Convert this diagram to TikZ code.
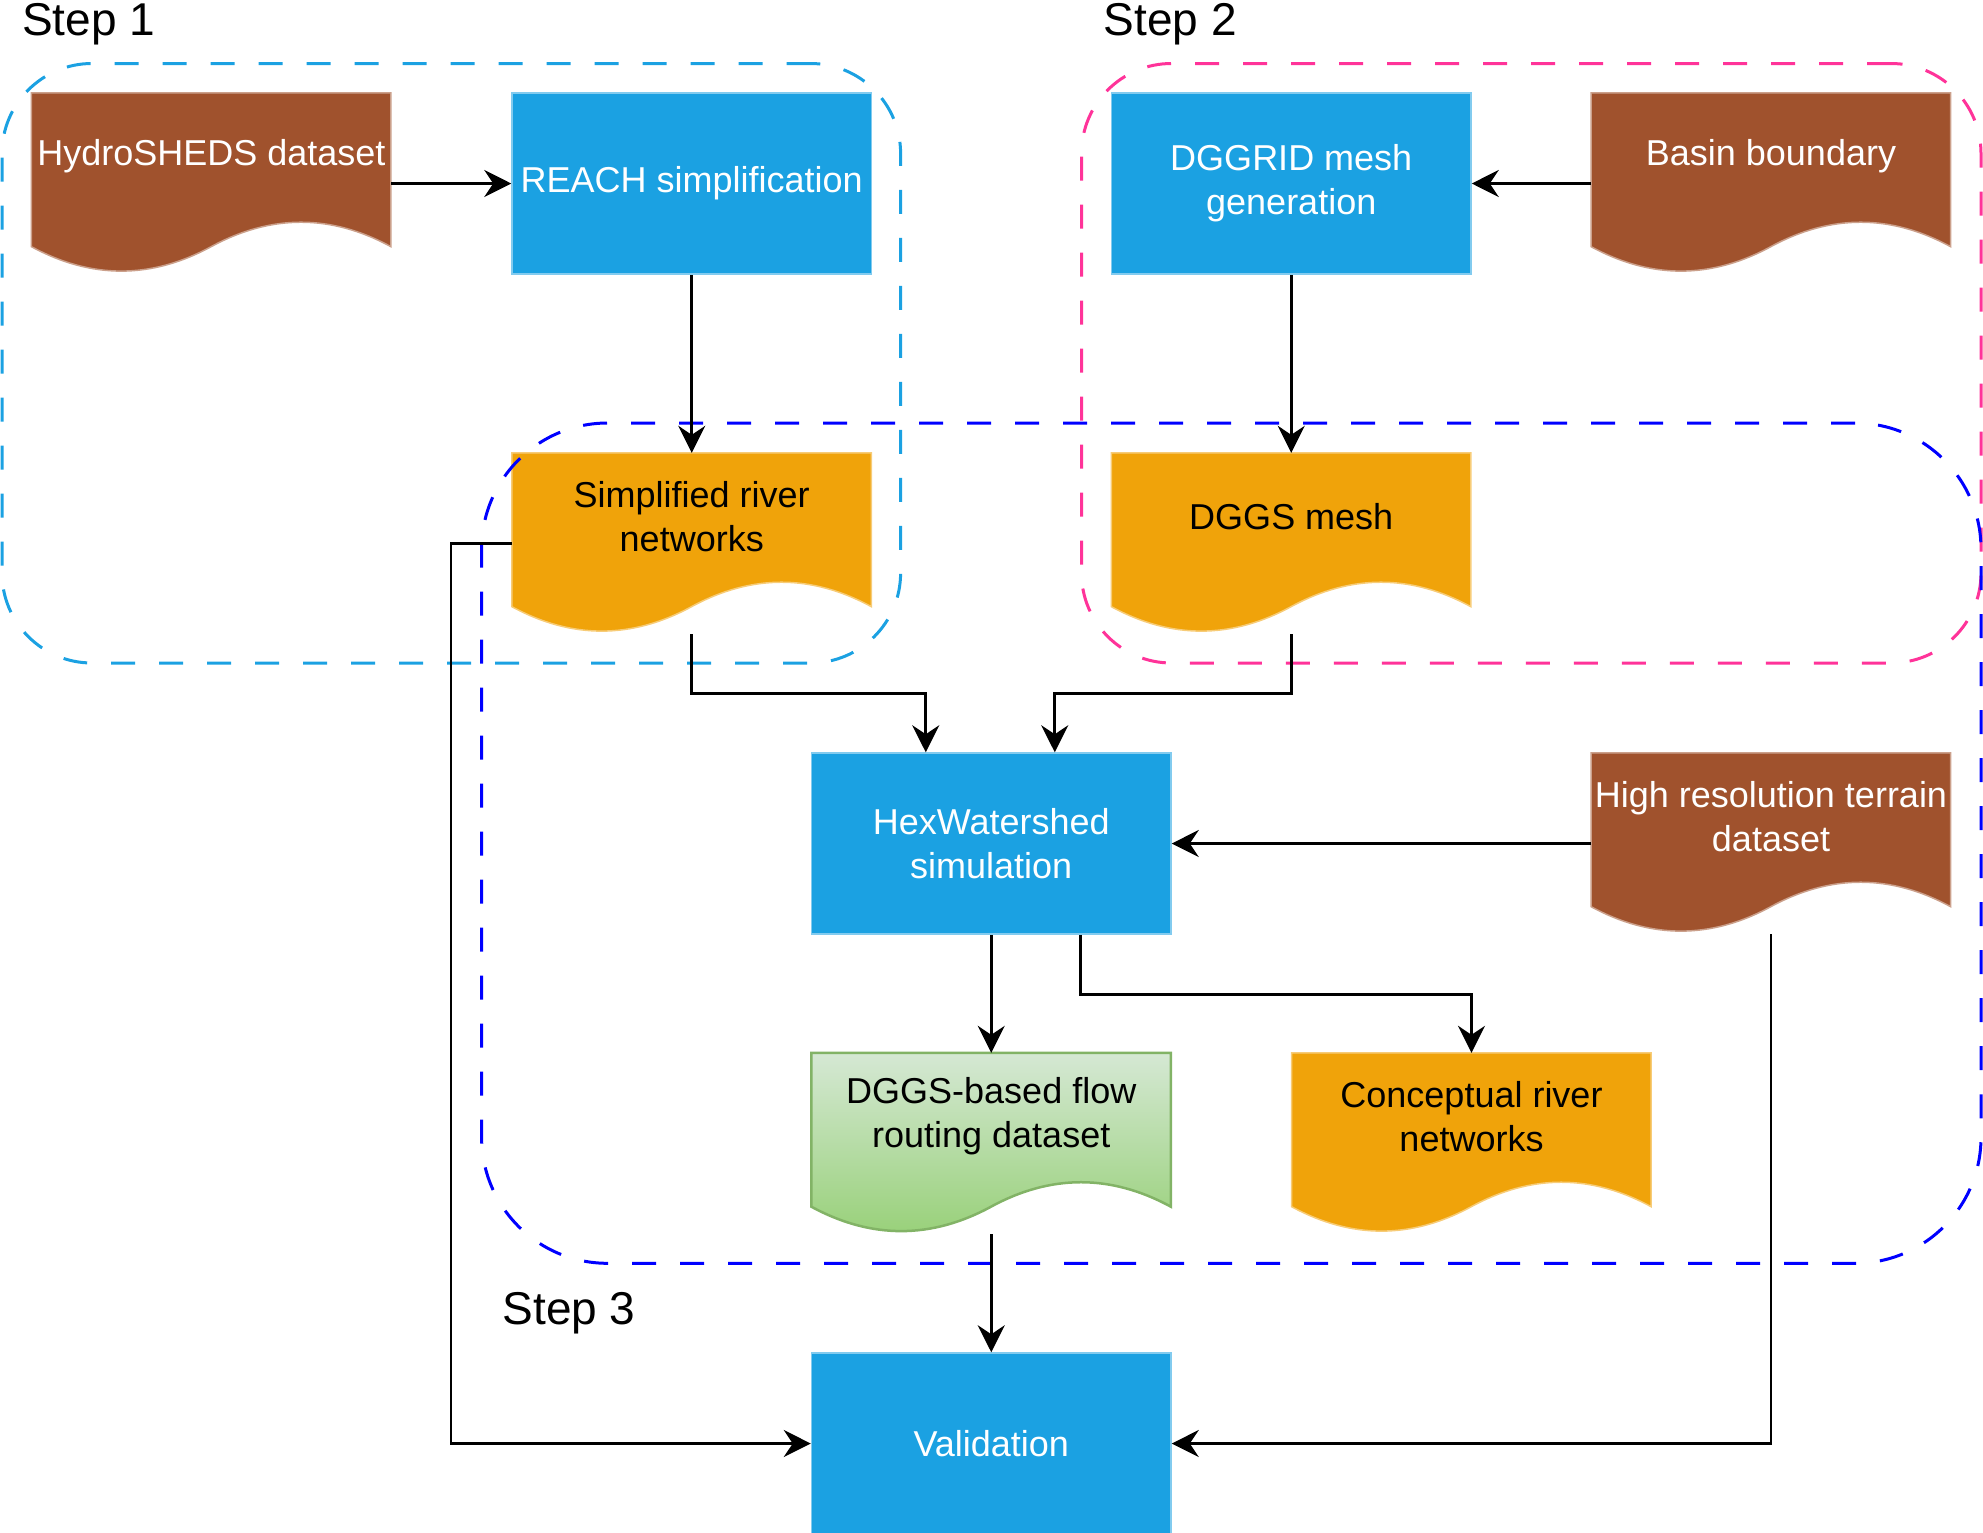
\documentclass[tikz,border=0pt]{standalone}
\usepackage{fontspec}
\setmainfont{Liberation Sans}
\usetikzlibrary{arrows.meta,calc}
\definecolor{cblue}{HTML}{1BA1E2}
\definecolor{cbrown}{HTML}{A0522D}
\definecolor{corange}{HTML}{F0A30A}
\definecolor{cpink}{HTML}{FF3399}
\definecolor{cdblue}{HTML}{0000FF}
\definecolor{gtop}{HTML}{D5E8D4}
\definecolor{gbot}{HTML}{97D077}
\definecolor{gedge}{HTML}{82B366}
\pgfdeclarelayer{bg}
\pgfsetlayers{bg,main}
\newcommand{\docshape}[2]{%
  \begin{pgfonlayer}{bg}
  \begin{scope}[shift={(#1.north west)}]
  \path[#2] (0,0) -- (359.5,0) -- (359.5,153.85)
    .. controls (299.58,121.27) and (239.67,121.27) .. (179.75,153.85)
    .. controls (119.83,186.43) and (59.92,186.43) .. (0,153.85) -- cycle;
  \end{scope}
  \end{pgfonlayer}}
\begin{document}
\begin{tikzpicture}[x=1pt,y=-1pt,
  procbox/.style={rectangle, fill=cblue, draw=cblue!55!white, line width=1.5pt,
    minimum width=359.5pt, minimum height=181pt, inner sep=0pt, text=white,
    align=center, font=\fontsize{36}{44}\selectfont},
  docbox/.style={rectangle, minimum width=359.5pt, minimum height=181pt, inner sep=0pt},
  doctext/.style={inner sep=0pt, align=center, font=\fontsize{36}{44}\selectfont},
  steplabel/.style={inner sep=0pt, anchor=base west, font=\fontsize{46}{55}\selectfont},
  grp/.style={rectangle, line width=3pt, dash pattern=on 24pt off 24pt, inner sep=0pt},
  conn/.style={line width=2.6pt, -{Stealth[length=27pt,width=27pt,inset=9pt]}},
  brownfill/.style={fill=cbrown, draw=cbrown!55!white, line width=1.5pt},
  orangefill/.style={fill=corange, draw=corange!55!white, line width=1.5pt},
  greenfill/.style={top color=gtop, bottom color=gbot, draw=gedge, line width=2.5pt}
]
\useasboundingbox (0,0) rectangle (1983,1532);
\clip (0,0) rectangle (1983,1532);

% groups
\node[grp, draw=cblue, minimum width=898.6pt, minimum height=599.5pt, rounded corners=90pt] (g1) at (451.3,363.25) {};
\node[grp, draw=cpink, minimum width=899.5pt, minimum height=599.5pt, rounded corners=90pt] (g2) at (1531.25,363.25) {};
\node[grp, draw=cdblue, minimum width=1499.4pt, minimum height=840.3pt, rounded corners=126pt] (g3) at (1231.3,843.15) {};

% step labels
\node[steplabel] (s1) at (22,35.2) {Step 1};
\node[steplabel] (s2) at (1103.6,35.2) {Step 2};
\node[steplabel] (s3) at (502.4,1324.4) {Step 3};

% process boxes
\node[procbox] (reach) at (691.75,183.5) {REACH simplification};
\node[procbox] (dggrid) at (1291.25,183.5) {DGGRID mesh\\generation};
\node[procbox] (hex) at (991.25,843.5) {HexWatershed\\simulation};
\node[procbox] (valid) at (991.25,1443.5) {Validation};

% documents
\node[docbox] (hs) at (211.35,183.5) {};
\node[docbox] (basin) at (1771,183.5) {};
\node[docbox] (srn) at (691.75,543.5) {};
\node[docbox] (mesh) at (1291.25,543.5) {};
\node[docbox] (hires) at (1771,843.5) {};
\node[docbox] (flow) at (991.25,1143.5) {};
\node[docbox] (conc) at (1471.5,1143.5) {};

\docshape{hs}{brownfill}
\docshape{basin}{brownfill}
\docshape{srn}{orangefill}
\docshape{mesh}{orangefill}
\docshape{hires}{brownfill}
\docshape{flow}{greenfill}
\docshape{conc}{orangefill}

\node[doctext, text=white] (hs-t) at (211.35,156.35) {HydroSHEDS dataset};
\node[doctext, text=white] (basin-t) at (1771,156.35) {Basin boundary};
\node[doctext] (srn-t) at (691.75,516.35) {Simplified river\\networks};
\node[doctext] (mesh-t) at (1291.25,516.35) {DGGS mesh};
\node[doctext, text=white] (hires-t) at (1771,816.35) {High resolution terrain\\dataset};
\node[doctext] (flow-t) at (991.25,1116.35) {DGGS-based flow\\routing dataset};
\node[doctext] (conc-t) at (1471.5,1116.35) {Conceptual river\\networks};

% connectors
\draw[conn] (hs.east) -- (reach.west);
\draw[conn] (basin.west) -- (dggrid.east);
\draw[conn] (reach.south) -- (srn.north);
\draw[conn] (dggrid.south) -- (mesh.north);
\draw[conn] (srn.south) -- ++(0,59) -| ($(hex.north west)+(115,0)$);
\draw[conn] (mesh.south) -- ++(0,59) -| ($(hex.north west)+(244,0)$);
\draw[conn] (hires.west) -- (hex.east);
\draw[conn] (hex.south) -- (flow.north);
\draw[conn] ($(hex.south west)+(270,0)$) -- ++(0,60) -| (conc.north);
\draw[conn] (flow.south) -- (valid.north);
\draw[conn] (srn.west) -- ++(-61,0) |- (valid.west);
\draw[conn] (hires.south) |- (valid.east);
\end{tikzpicture}
\end{document}
